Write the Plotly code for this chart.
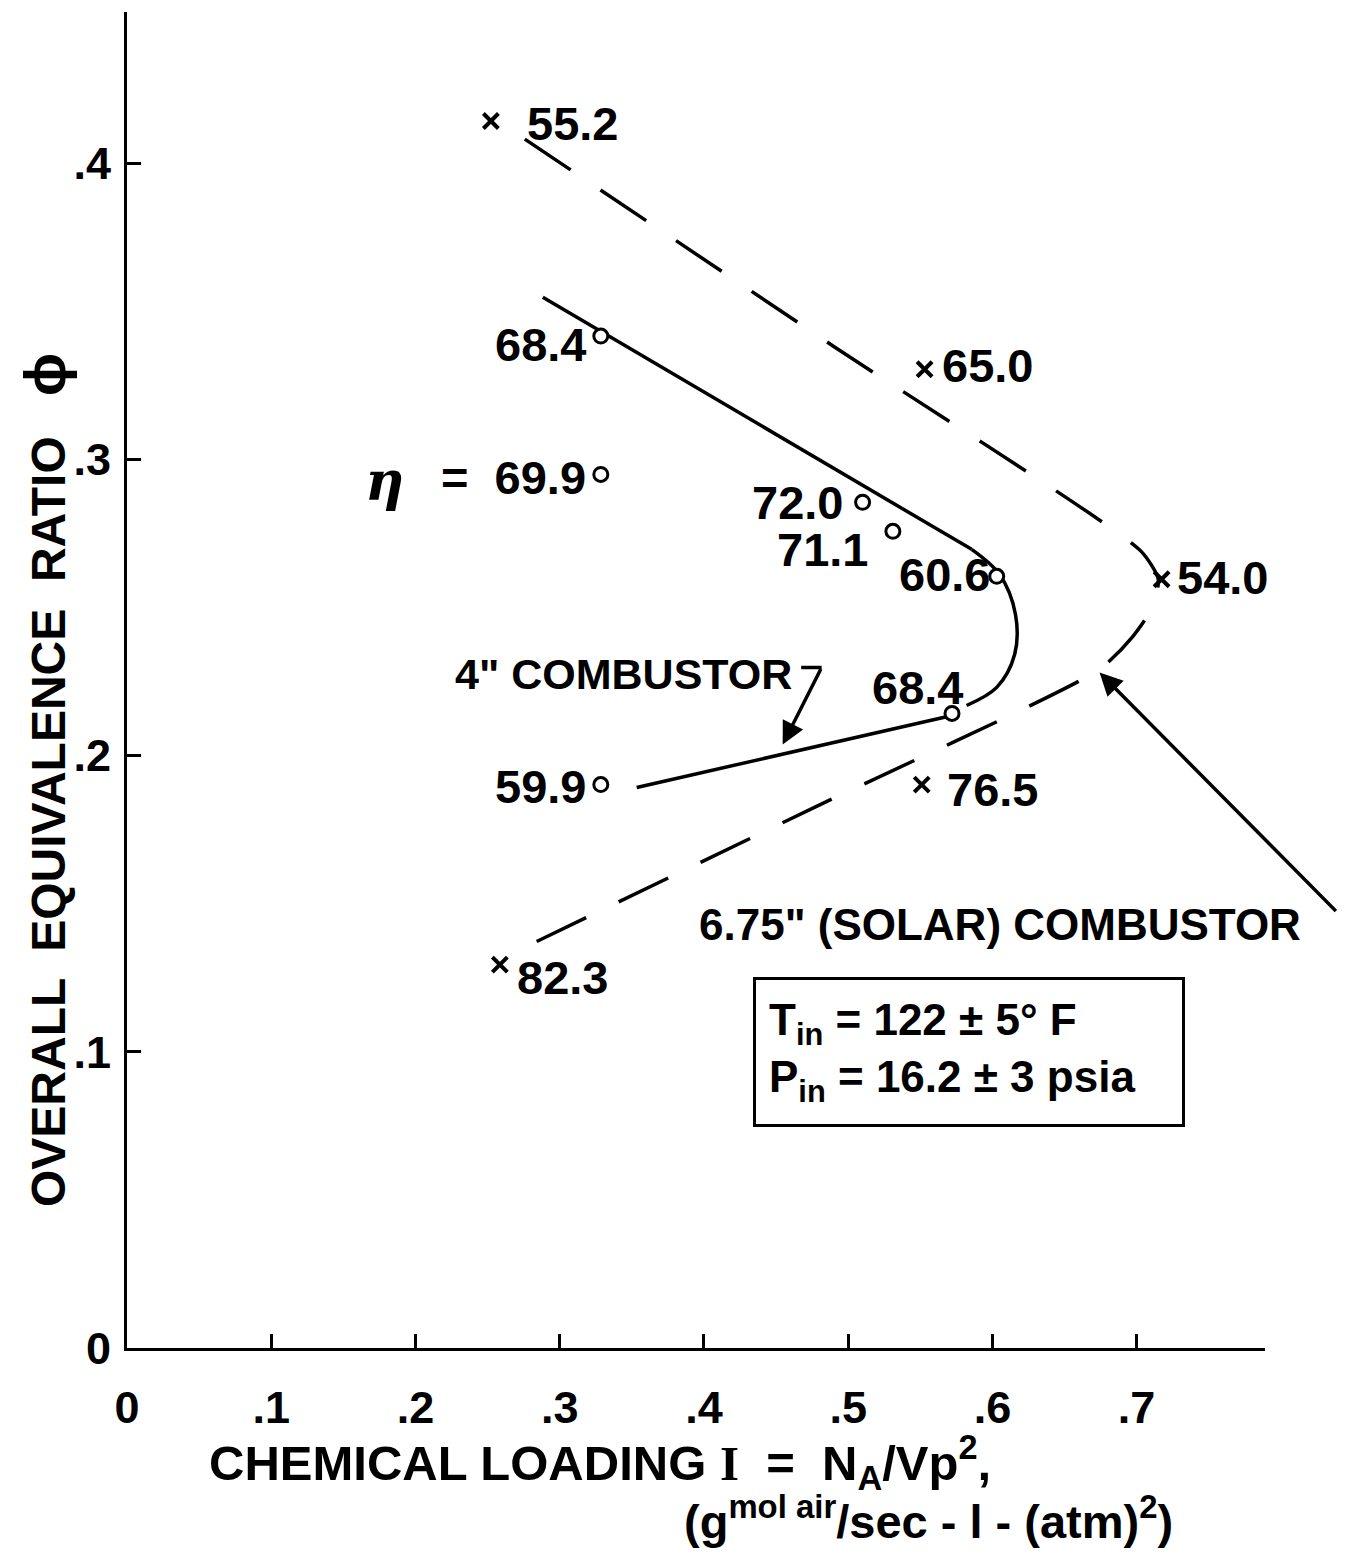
import plotly.graph_objects as go

# ---------------- data (x = chemical loading, y = equivalence ratio) ----------------
circ_x = [0.3285, 0.3285, 0.510, 0.531, 0.603, 0.572, 0.3285]
circ_y = [0.3416, 0.2949, 0.2855, 0.2757, 0.2605, 0.2142, 0.1902]
circ_lbl = ["68.4", "69.9", "72.0", "71.1", "60.6", "68.4", "59.9"]

cross_x = [0.2523, 0.553, 0.7173, 0.551, 0.2585]
cross_y = [0.4142, 0.3304, 0.2595, 0.1902, 0.1294]
cross_lbl = ["55.2", "65.0", "54.0", "76.5", "82.3"]

# 4" combustor faired curve
c4_upper_x = [0.2883, 0.5856]
c4_upper_y = [0.3547, 0.2696]
c4_bend_x = [0.5856, 0.605, 0.616, 0.6154, 0.603, 0.5821]
c4_bend_y = [0.2696, 0.2611, 0.2476, 0.2341, 0.2230, 0.2169]
c4_lower_x = [0.569, 0.3534]
c4_lower_y = [0.2132, 0.1892]

# 6.75" (solar) combustor faired curve
sol_x = [0.2758, 0.4900, 0.7030, 0.7150, 0.7110, 0.6970, 0.6743, 0.4770, 0.2793]
sol_y = [0.4081, 0.3381, 0.2690, 0.2595, 0.2500, 0.2400, 0.2291, 0.1826, 0.1361]

x_ticks = [0, 0.1, 0.2, 0.3, 0.4, 0.5, 0.6, 0.7]
x_tick_text = ["0", ".1", ".2", ".3", ".4", ".5", ".6", ".7"]
y_ticks = [0, 0.1, 0.2, 0.3, 0.4]
y_tick_text = ["0", ".1", ".2", ".3", ".4"]

FONT = "Liberation Sans"
BLACK = "black"

# page has an 8px body margin; figure sized so the plot lands where the reference has it
OFF = 8
W, H = 1345 - OFF, 1554 - OFF
ML, MR, MT, MB = 127 - OFF, 80, 12 - OFF, 206
plot_w = W - ML - MR
plot_h = H - MT - MB


def px_x(p):  # page pixel -> paper
    return (p - OFF - ML) / plot_w


def px_y(p):
    return (H - MB - (p - OFF)) / plot_h


fig = go.Figure()

line_solid = dict(color=BLACK, width=3.5)
fig.add_trace(go.Scatter(x=c4_upper_x, y=c4_upper_y, mode="lines", line=line_solid, showlegend=False))
fig.add_trace(go.Scatter(x=c4_bend_x, y=c4_bend_y, mode="lines",
                         line=dict(color=BLACK, width=3.5, shape="spline", smoothing=1.0), showlegend=False))
fig.add_trace(go.Scatter(x=c4_lower_x, y=c4_lower_y, mode="lines", line=line_solid, showlegend=False))

fig.add_trace(go.Scatter(x=sol_x, y=sol_y, mode="lines",
                         line=dict(color=BLACK, width=3.5, dash="55px,36px", shape="spline", smoothing=0.6),
                         showlegend=False))

fig.add_trace(go.Scatter(x=circ_x, y=circ_y, mode="markers",
                         marker=dict(symbol="circle", size=14, color="white",
                                     line=dict(color=BLACK, width=3)), showlegend=False))
fig.add_trace(go.Scatter(x=cross_x, y=cross_y, mode="markers",
                         marker=dict(symbol="x-thin", size=15,
                                     line=dict(color=BLACK, width=4)), showlegend=False))

num_font = dict(family=FONT, size=47, color=BLACK, weight="bold")
txt_font = dict(family=FONT, size=43, color=BLACK, weight="bold")

# labels for circles (text to the left of the point)
circ_lab_pos = [(0.3195, 0.3389), (0.3195, 0.2939), (0.4976, 0.2855), (0.5149, 0.2696),
                (0.5994, 0.2611), (0.5807, 0.2230), (0.3195, 0.1895)]
for (lx, ly), t in zip(circ_lab_pos, circ_lbl):
    if t == "69.9":
        t = "=  69.9"
    fig.add_annotation(x=lx, y=ly, text=t, showarrow=False, xanchor="right", yanchor="middle",
                       font=num_font)

cross_lab_pos = [(0.2758, 0.4132), (0.5634, 0.3318), (0.7263, 0.2601), (0.5669, 0.1885), (0.2689, 0.1250)]
for (lx, ly), t in zip(cross_lab_pos, cross_lbl):
    fig.add_annotation(x=lx, y=ly, text=t, showarrow=False, xanchor="left", yanchor="middle",
                       font=num_font)

fig.add_annotation(x=0.1788, y=0.2926, text="<b><i>η</i></b>", showarrow=False,
                   font=dict(family="DejaVu Serif", size=54, color=BLACK))

fig.add_annotation(x=0.2259, y=0.2274, text="4\" COMBUSTOR", showarrow=False,
                   xanchor="left", yanchor="middle", font=txt_font)
fig.add_annotation(x=0.395, y=0.1429, text="6.75\" (SOLAR) COMBUSTOR", showarrow=False,
                   xanchor="left", yanchor="middle", font=dict(family=FONT, size=44, color=BLACK, weight="bold"))

# leader for 4" combustor ("7" shape)
fig.add_annotation(x=0.4816, y=0.2297, ax=0.4664, ay=0.2297, xref="x", yref="y",
                   axref="x", ayref="y", text="", showarrow=True, arrowhead=0,
                   arrowwidth=3.5, arrowcolor=BLACK)
fig.add_annotation(x=0.4546, y=0.2037, ax=0.4816, ay=0.2297, xref="x", yref="y",
                   axref="x", ayref="y", text="", showarrow=True, arrowhead=2,
                   arrowsize=1.3, arrowwidth=3.5, arrowcolor=BLACK)

# leader for solar combustor
fig.add_annotation(x=0.8392, y=0.1470, ax=0.8281, ay=0.1470, xref="x", yref="y",
                   axref="x", ayref="y", text="", showarrow=True, arrowhead=0,
                   arrowwidth=3.5, arrowcolor=BLACK)
fig.add_annotation(x=0.6743, y=0.2280, ax=0.8392, ay=0.1470, xref="x", yref="y",
                   axref="x", ayref="y", text="", showarrow=True, arrowhead=2,
                   arrowsize=1.3, arrowwidth=3.5, arrowcolor=BLACK)

# condition box
fig.add_annotation(x=0.5835, y=0.1000, xref="x", yref="y",
                   text="T<sub>in</sub> = 122 ± 5° F<br>P<sub>in</sub> = 16.2 ± 3 psia",
                   showarrow=False, align="left", xanchor="center", yanchor="middle",
                   width=400, height=118,
                   font=dict(family=FONT, size=44, color=BLACK, weight="bold"),
                   bordercolor=BLACK, borderwidth=3, borderpad=13, bgcolor="white")

# axis titles
fig.add_annotation(x=px_x(44), y=px_y(780), xref="paper", yref="paper",
                   xanchor="center", yanchor="middle",
                   text="OVERALL  EQUIVALENCE  RATIO   <span style='font-size:58px'>ϕ</span>",
                   showarrow=False, textangle=-90,
                   font=dict(family=FONT, size=48, color=BLACK, weight="bold"))

fig.add_annotation(x=px_x(600), y=px_y(1462), xref="paper", yref="paper",
                   text="CHEMICAL LOADING <span style='font-family:Liberation Serif'>I</span>  =  N<sub>A</sub>/Vp<sup>2</sup>,",
                   showarrow=False, xanchor="center", yanchor="middle",
                   font=dict(family=FONT, size=49, color=BLACK, weight="bold"))
fig.add_annotation(x=px_x(928), y=px_y(1518), xref="paper", yref="paper",
                   text="(g<sup>mol air</sup>/sec - l - (atm)<sup>2</sup>)",
                   showarrow=False, xanchor="center", yanchor="middle",
                   font=dict(family=FONT, size=47, color=BLACK, weight="bold"))

fig.update_layout(
    width=W, height=H,
    margin=dict(l=ML, r=MR, t=MT, b=MB),
    paper_bgcolor="white", plot_bgcolor="white",
    xaxis=dict(range=[0, 0.789], tickvals=x_ticks, ticktext=x_tick_text, showline=True,
               linecolor=BLACK, linewidth=3, ticks="inside", ticklen=14, tickwidth=3,
               tickcolor=BLACK, showgrid=False, zeroline=False, automargin=False,
               tickfont=dict(family=FONT, size=45, color=BLACK, weight="bold"), ticklabelstandoff=18),
    yaxis=dict(range=[0, 0.451], tickvals=y_ticks, ticktext=y_tick_text, showline=True,
               linecolor=BLACK, linewidth=3, ticks="inside", ticklen=14, tickwidth=3,
               tickcolor=BLACK, showgrid=False, zeroline=False, automargin=False,
               tickfont=dict(family=FONT, size=45, color=BLACK, weight="bold"), ticklabelstandoff=4),
)

fig.write_html("out.html")
